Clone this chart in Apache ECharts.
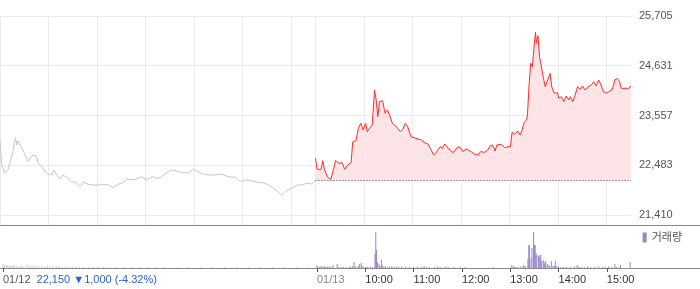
<!DOCTYPE html>
<html><head><meta charset="utf-8">
<script src="https://cdn.jsdelivr.net/npm/echarts@6/dist/echarts.min.js"></script>
<style>html,body{margin:0;padding:0;background:#fff}#c{width:700px;height:289px}</style>
</head><body><div id="c"></div><script>
// ---- data (minutes from 09:00 of each session, price) ----
const prevClose = 22150;
const day1Summary = '22,150 ▼1,000 (-4.32%)';
const sessionMinutes = 390;
const day1Prices = [[0,23007],[2,22490],[6,22317],[10,22382],[12,22425],[16,22776],[19,23078],[21,22921],[22,23007],[27,22856],[31,22705],[35,22561],[39,22690],[45,22690],[47,22533],[52,22453],[56,22345],[59,22295],[64,22274],[67,22382],[70,22274],[74,22187],[78,22274],[83,22215],[89,22116],[93,22129],[99,22021],[103,22123],[109,22073],[115,22058],[122,22058],[128,22073],[134,22058],[140,22000],[146,22073],[153,22116],[157,22187],[163,22166],[169,22187],[175,22237],[181,22166],[188,22237],[194,22203],[198,22215],[200,22203],[208,22345],[214,22382],[221,22345],[227,22324],[233,22324],[239,22397],[243,22367],[250,22295],[258,22274],[266,22274],[274,22295],[282,22237],[291,22223],[297,22129],[303,22166],[311,22151],[320,22108],[326,22108],[332,22058],[338,21987],[344,21914],[348,21842],[355,21950],[361,21987],[367,22058],[373,22058],[379,22095],[385,22080],[390,22150]];
const day2Prices = [[0,22634],[2,22397],[7,22397],[9,22583],[11,22397],[15,22224],[19,22181],[21,22181],[25,22583],[29,22526],[33,22539],[36,22397],[40,22490],[44,22539],[46,22992],[50,23014],[53,23282],[56,23390],[59,23245],[62,23390],[64,23208],[67,23282],[70,23353],[73,24108],[75,23892],[77,23532],[79,23856],[83,23877],[86,23605],[89,23677],[92,23547],[95,23390],[100,23316],[105,23208],[108,23260],[111,23390],[114,23316],[118,23101],[124,23066],[131,23029],[135,22971],[139,22943],[143,22813],[146,22705],[149,22755],[154,22884],[157,22850],[160,22943],[164,22850],[170,22755],[176,22884],[180,22850],[182,22777],[186,22835],[191,22792],[197,22721],[201,22705],[204,22777],[209,22764],[213,22813],[216,22906],[219,22921],[222,22792],[224,22921],[230,22936],[234,22863],[238,22884],[241,22884],[243,23195],[246,23152],[250,23223],[253,23137],[255,23223],[258,23411],[261,23461],[262,23569],[264,24216],[266,24685],[268,24611],[270,25008],[272,25353],[273,25116],[275,25280],[277,24827],[279,24792],[281,24432],[284,24179],[286,24145],[290,24468],[292,24179],[295,24037],[297,24037],[299,24050],[301,23929],[304,23964],[307,23856],[310,23979],[313,23892],[315,23964],[318,23856],[321,24000],[324,24179],[327,24122],[330,24195],[333,24108],[337,24179],[341,24216],[344,24287],[347,24195],[350,24324],[353,24216],[356,24071],[360,24037],[364,24093],[367,24122],[370,24324],[373,24359],[376,24287],[378,24145],[387,24145],[390,24195]];
const day1Volume = [[0,40],[2,30],[4,25],[6,30],[8,20],[10,25],[12,20],[14,30],[17,20],[20,15],[23,20],[26,15],[30,30],[33,15],[36,20],[39,25],[42,20],[45,15],[48,20],[52,15],[55,25],[58,15],[62,20],[66,15],[70,20],[74,10],[78,15],[82,10],[86,15],[90,10],[95,10],[100,10],[106,15],[112,10],[118,10],[125,10],[132,10],[140,10],[150,10],[160,10],[170,10],[180,10],[190,10],[200,10],[215,10],[230,10],[245,10],[260,10],[275,10],[290,10],[305,10],[320,10],[335,10],[350,10],[365,10],[380,10]];
const day2Volume = [[0,25],[1,15],[3,10],[5,20],[7,10],[9,20],[11,10],[13,10],[15,15],[17,10],[20,25],[25,40],[27,10],[30,10],[33,10],[36,10],[40,15],[42,10],[44,20],[46,60],[48,15],[51,20],[53,40],[55,50],[57,20],[60,10],[63,15],[66,15],[69,10],[72,140],[73,360],[74,180],[75,60],[77,40],[78,20],[80,80],[81,30],[83,15],[85,20],[88,10],[90,15],[93,20],[96,10],[99,15],[102,10],[105,15],[110,10],[115,10],[120,10],[125,15],[130,10],[133,20],[136,10],[140,10],[146,10],[150,15],[153,10],[160,15],[163,10],[170,10],[178,10],[184,10],[219,10],[242,30],[244,15],[246,15],[248,10],[250,10],[253,15],[256,20],[257,30],[259,15],[262,90],[263,230],[264,225],[266,100],[267,200],[269,360],[270,230],[271,230],[272,150],[273,130],[275,120],[276,130],[277,100],[278,130],[279,70],[281,80],[282,60],[283,40],[284,70],[286,40],[287,30],[289,25],[291,70],[293,25],[295,20],[296,70],[298,20],[300,15],[303,10],[306,10],[310,10],[315,10],[320,15],[323,30],[325,15],[328,10],[332,10],[336,15],[340,10],[345,10],[350,15],[355,10],[358,10],[362,15],[366,10],[370,40],[372,10],[375,10],[377,30],[389,60]];
const yTickValues = [21410, 22483.75, 23557.5, 24631.25, 25705];
const yTickLabels = ['21,410', '22,483', '23,557', '24,631', '25,705'];
const xGridMinutes = [0,60,120,180,240,300,360,390,450,510,570,630,690,750];
const xLabelMinutes = [0,390,450,510,570,630,690,750];
const xLabelTexts = ['01/12','01/13','10:00','11:00','12:00','13:00','14:00','15:00'];

// ---- chart ----
const FONT = '"Liberation Sans", Arial, "Noto Sans CJK KR", sans-serif';
const shift = (arr, off) => arr.map(p => [p[0] + off, p[1]]);
const chart = echarts.init(document.getElementById('c'));
const option = {
  animation: false,
  textStyle: { fontFamily: FONT },
  grid: [
    { left: 0, right: 69, top: 16, height: 209 },
    { left: 0, right: 69, top: 226, height: 42 },
    { left: 0, right: 0, top: 225, height: 43 }
  ],
  legend: {
    data: ['거래량'], right: 18, top: 232, itemWidth: 4, itemHeight: 10, padding: 0,
    icon: 'rect', selectedMode: false,
    textStyle: { fontSize: 11, color: '#555', fontFamily: FONT }
  },
  xAxis: [
    { gridIndex: 0, type: 'value', min: 0, max: sessionMinutes * 2,
      axisLine: { show: false }, axisLabel: { show: false },
      axisTick: { show: false, customValues: xGridMinutes },
      splitLine: { show: true, lineStyle: { color: '#ebebeb', width: 1 } } },
    { gridIndex: 1, type: 'value', min: 0, max: sessionMinutes * 2,
      axisLine: { show: false }, splitLine: { show: false },
      axisTick: { show: true, customValues: xLabelMinutes, length: 4, lineStyle: { color: '#555' } },
      axisLabel: {
        customValues: xLabelMinutes, align: 'left', margin: 6, fontSize: 11, color: '#333',
        formatter: function (v) {
          const i = xLabelMinutes.indexOf(Math.round(v));
          if (i === 0) return '{d|' + xLabelTexts[0] + '} {c|' + day1Summary + '}';
          if (i === 1) return '{e|' + xLabelTexts[1] + '}';
          return i > 1 ? xLabelTexts[i] : '';
        },
        rich: {
          d: { color: '#555', fontSize: 11, fontFamily: FONT },
          e: { color: '#888', fontSize: 11, fontFamily: FONT },
          c: { color: '#2b63d9', fontSize: 11, fontFamily: FONT, padding: [0, 0, 0, 3] }
        }
      } },
    { gridIndex: 2, type: 'value', min: 0, max: 1, position: 'top',
      axisLine: { show: true, onZero: false, lineStyle: { color: '#8a8a8a' } },
      axisTick: { show: false }, axisLabel: { show: false }, splitLine: { show: false } },
    { gridIndex: 2, type: 'value', min: 0, max: 1, position: 'bottom',
      axisLine: { show: true, onZero: false, lineStyle: { color: '#8a8a8a' } },
      axisTick: { show: false }, axisLabel: { show: false }, splitLine: { show: false } }
  ],
  yAxis: [
    { gridIndex: 0, type: 'value', position: 'right', min: 21194, max: 25705,
      axisLine: { show: false },
      axisTick: { show: false, customValues: yTickValues },
      axisLabel: {
        customValues: yTickValues, margin: 8, fontSize: 11, color: '#555',
        formatter: function (v) {
          let best = 0;
          yTickValues.forEach((t, i) => { if (Math.abs(t - v) < Math.abs(yTickValues[best] - v)) best = i; });
          return yTickLabels[best];
        }
      },
      splitLine: { show: true, lineStyle: { color: '#ebebeb', width: 1 } } },
    { gridIndex: 1, type: 'value', min: 0, max: 420, show: false, splitLine: { show: false } },
    { gridIndex: 2, type: 'value', min: 0, max: 1, show: false, splitLine: { show: false } }
  ],
  series: [
    { name: 'day1', type: 'line', xAxisIndex: 0, yAxisIndex: 0, data: day1Prices,
      symbol: 'none', silent: true, lineStyle: { color: '#c6c6cc', width: 1 } },
    { name: 'day2', type: 'line', xAxisIndex: 0, yAxisIndex: 0, data: shift(day2Prices, sessionMinutes),
      symbol: 'none', silent: true, lineStyle: { color: '#ff2a2a', width: 1 },
      areaStyle: { color: '#fde4e6', opacity: 1, origin: prevClose },
      markLine: { silent: true, symbol: ['none', 'none'], label: { show: false },
        lineStyle: { type: [1, 2], color: '#444', width: 1 },
        data: [[{ coord: [sessionMinutes, prevClose] }, { coord: [sessionMinutes * 2, prevClose] }]] } },
    { name: 'vol1', type: 'bar', xAxisIndex: 1, yAxisIndex: 1, data: day1Volume,
      barWidth: 1, barGap: '-100%', silent: true, itemStyle: { color: '#c9c9c9' } },
    { name: '거래량', type: 'bar', xAxisIndex: 1, yAxisIndex: 1, data: shift(day2Volume, sessionMinutes),
      barWidth: 1, barGap: '-100%', silent: true, itemStyle: { color: '#9a84c6' } }
  ]
};
chart.setOption(option);
</script></body></html>
